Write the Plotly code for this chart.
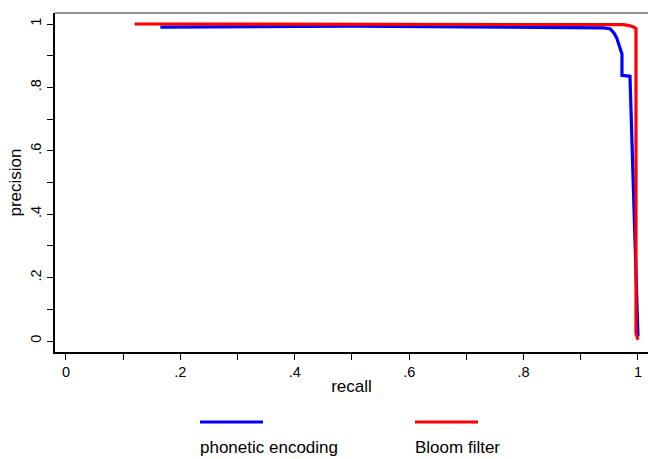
import plotly.graph_objects as go

# Data
phonetic_recall = [0.165, 0.30, 0.50, 0.70, 0.85, 0.94, 0.951, 0.958, 0.963, 0.968, 0.972, 0.972, 0.986, 0.993, 1.0]
phonetic_precision = [0.990, 0.992, 0.993, 0.991, 0.989, 0.988, 0.985, 0.972, 0.955, 0.930, 0.905, 0.838, 0.835, 0.42, 0.015]

bloom_recall = [0.12, 0.40, 0.70, 0.96, 0.975, 0.985, 0.993, 0.9965, 0.9965, 1.0]
bloom_precision = [1.0, 1.0, 1.0, 0.999, 0.998, 0.995, 0.990, 0.985, 0.025, 0.004]

series_names = ["phonetic encoding", "Bloom filter"]
series_colors = ["#0000ff", "#ff0000"]

x_tickvals = [0, 0.1, 0.2, 0.3, 0.4, 0.5, 0.6, 0.7, 0.8, 0.9, 1.0]
x_ticktext = ["0", "", ".2", "", ".4", "", ".6", "", ".8", "", "1"]
y_tickvals = [0, 0.1, 0.2, 0.3, 0.4, 0.5, 0.6, 0.7, 0.8, 0.9, 1.0]
y_ticktext = ["0", "", ".2", "", ".4", "", ".6", "", ".8", "", "1"]

FONT = "Liberation Sans, Arial, sans-serif"

fig = go.Figure()
fig.add_trace(go.Scatter(x=phonetic_recall, y=phonetic_precision, mode="lines",
                         line=dict(color=series_colors[0], width=3.2), name=series_names[0],
                         showlegend=False))
fig.add_trace(go.Scatter(x=bloom_recall, y=bloom_precision, mode="lines",
                         line=dict(color=series_colors[1], width=3.2), name=series_names[1],
                         showlegend=False))

# plot area in pixels: left 55, right 648, top 13, bottom 352
L, R, T, B = 55, 648, 13, 352
W, H = 648, 459
pw, ph = R - L, B - T

def px(x):
    return (x - L) / pw

def py(y):
    return (B - y) / ph

shapes = [
    dict(type="line", xref="paper", yref="paper", x0=0, x1=1, y0=1, y1=1,
         line=dict(color="#6e6e6e", width=1.5)),
]
annotations = []
legend_x = [200, 415]
for i, name in enumerate(series_names):
    shapes.append(dict(type="line", xref="paper", yref="paper",
                       x0=px(legend_x[i]), x1=px(legend_x[i] + 63), y0=py(422), y1=py(422),
                       line=dict(color=series_colors[i], width=3)))
    annotations.append(dict(text=name, xref="paper", yref="paper", x=px(legend_x[i] - 2), y=py(447),
                            xanchor="left", yanchor="middle", showarrow=False,
                            font=dict(family=FONT, size=17, color="black")))

fig.update_layout(
    width=W, height=H,
    margin=dict(l=L, r=W - R, t=T, b=H - B),
    paper_bgcolor="white", plot_bgcolor="white",
    font=dict(family=FONT, size=14, color="black"),
    shapes=shapes, annotations=annotations,
    xaxis=dict(range=[-0.0192, 1.0175], tickvals=x_tickvals, ticktext=x_ticktext,
               showgrid=False, zeroline=False, showline=True, linecolor="black", linewidth=1.5,
               ticks="outside", ticklen=6, tickwidth=1.3, tickcolor="black",
               tickfont=dict(family=FONT, size=14.5),
               title=dict(text="recall", font=dict(family=FONT, size=17), standoff=1)),
    yaxis=dict(range=[-0.0347, 1.0347], tickvals=y_tickvals, ticktext=y_ticktext,
               showgrid=False, zeroline=False, showline=True, linecolor="black", linewidth=1.5,
               ticks="outside", ticklen=6, tickwidth=1.3, tickcolor="black",
               tickangle=-90, tickfont=dict(family=FONT, size=14.5),
               title=dict(text="precision", font=dict(family=FONT, size=17), standoff=3)),
)

fig.write_html("out.html", config={"displayModeBar": False},
               post_script="document.body.style.margin='0px';document.body.style.padding='0px';")
